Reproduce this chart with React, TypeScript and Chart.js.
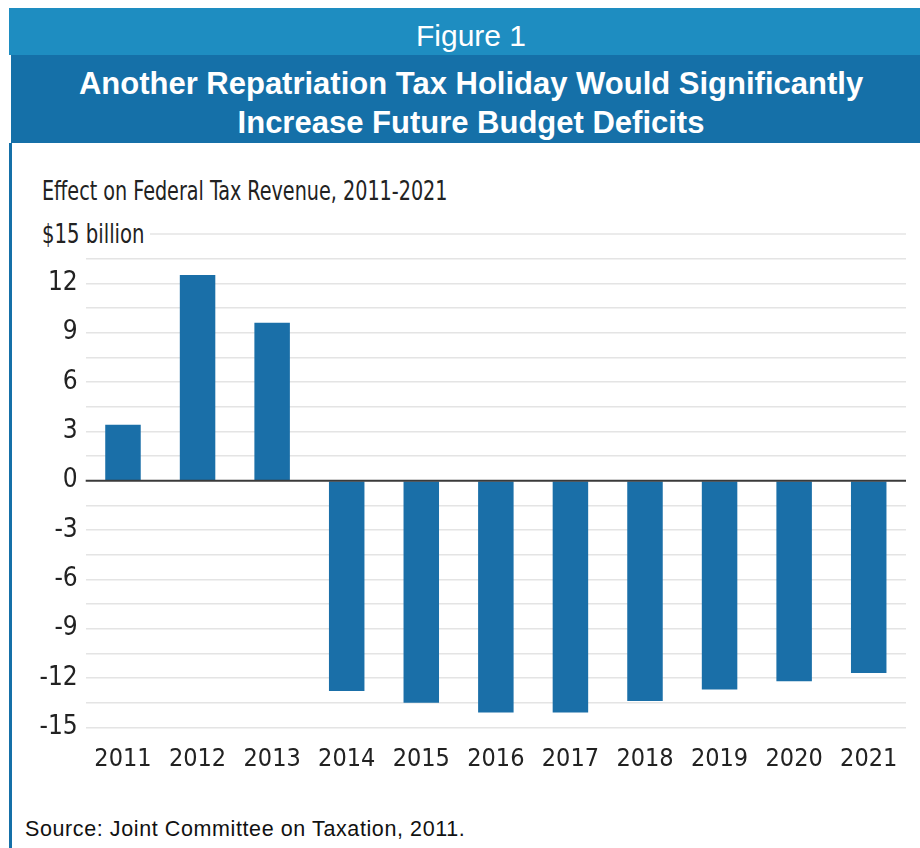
import React, { useEffect, useRef } from "react";
import { Chart, registerables } from "chart.js";

Chart.register(...registerables);

const years = ["2011", "2012", "2013", "2014", "2015", "2016", "2017", "2018", "2019", "2020", "2021"];
const revenueEffect = [3.4, 12.5, 9.6, -12.8, -13.5, -14.1, -14.1, -13.4, -12.7, -12.2, -11.7];
const yTickLabels = ["-15", "-12", "-9", "-6", "-3", "0", "3", "6", "9", "12"];
const topUnitLabel = "$15 billion";
const subtitle = "Effect on Federal Tax Revenue, 2011-2021";
const figureLabel = "Figure 1";
const titleLines = ["Another Repatriation Tax Holiday Would Significantly", "Increase Future Budget Deficits"];
const sourceNote = "Source: Joint Committee on Taxation, 2011.";

const NARROW = '"DejaVu Sans Condensed", "Liberation Sans", sans-serif';
const SANS = '"Liberation Sans", Arial, sans-serif';

const refLines = {
  id: "refLines",
  beforeDatasetsDraw(chart: any) {
    const { ctx, chartArea, scales } = chart;
    const y = scales.y.getPixelForValue(15);
    ctx.save();
    ctx.strokeStyle = "#e4e4e4";
    ctx.lineWidth = 1.5;
    ctx.beginPath();
    ctx.moveTo(150, y);
    ctx.lineTo(chartArea.right, y);
    ctx.stroke();
    ctx.restore();
  },
  afterDatasetsDraw(chart: any) {
    const { ctx, chartArea, scales } = chart;
    const y = scales.y.getPixelForValue(0);
    ctx.save();
    ctx.strokeStyle = "#3a3a3a";
    ctx.lineWidth = 2;
    ctx.beginPath();
    ctx.moveTo(chartArea.left, y);
    ctx.lineTo(chartArea.right, y);
    ctx.stroke();
    ctx.restore();
  },
};

function BarChart() {
  const ref = useRef<HTMLCanvasElement | null>(null);
  useEffect(() => {
    if (!ref.current) return;
    const chart = new Chart(ref.current, {
      type: "bar",
      data: {
        labels: years,
        datasets: [
          {
            data: revenueEffect,
            backgroundColor: "#1a6fa8",
            borderWidth: 0,
            categoryPercentage: 1,
            barPercentage: 0.476,
          },
        ],
      },
      options: {
        animation: false,
        responsive: false,
        maintainAspectRatio: false,
        layout: { padding: { top: 34, right: 14, left: 0, bottom: 0 } },
        plugins: { legend: { display: false }, tooltip: { enabled: false } },
        scales: {
          x: {
            grid: { display: false, drawTicks: false },
            border: { display: false },
            ticks: {
              color: "#222",
              font: { family: NARROW, size: 25 },
              padding: 17,
              maxRotation: 0,
              autoSkip: false,
            },
            afterFit(scale: any) {
              scale.height = 72.7;
            },
          },
          y: {
            min: -15,
            max: 15,
            border: { display: false },
            grid: {
              drawTicks: false,
              color: (c: any) => (c.tick && (c.tick.value === 0 || c.tick.value === 15) ? "rgba(0,0,0,0)" : "#e4e4e4"),
              lineWidth: 1.5,
            },
            ticks: {
              stepSize: 1.5,
              autoSkip: false,
              color: "#222",
              font: { family: NARROW, size: 26 },
              padding: 8,
              callback: (v: any) => {
                const s = String(Math.round(Number(v) * 10) / 10);
                return yTickLabels.includes(s) ? s : "";
              },
            },
            afterFit(scale: any) {
              scale.width = 85.7;
            },
          },
        },
      },
      plugins: [refLines],
    });
    return () => chart.destroy();
  }, []);
  return (
    <canvas
      ref={ref}
      width={920}
      height={600}
      style={{ position: "absolute", left: 0, top: 200, width: 920, height: 600 }}
    />
  );
}

export default function App() {
  return (
    <div style={{ position: "absolute", left: 0, top: 0, width: 920, height: 848, overflow: "hidden", background: "#fff" }}>
      <div style={{ position: "absolute", left: 9, top: 8, width: 924, height: 47, background: "#1e8dc1" }} />
      <div style={{ position: "absolute", left: 11, top: 55, width: 922, height: 88, background: "#1570a8" }} />
      <div style={{ position: "absolute", left: 9, top: 143, width: 3, height: 705, background: "#1570a8" }} />
      <div
        style={{
          position: "absolute", left: 9, top: 20.6, width: 924, textAlign: "center",
          fontFamily: SANS, fontSize: 30, lineHeight: "30px", color: "#fff",
        }}
      >
        {figureLabel}
      </div>
      <div
        style={{
          position: "absolute", left: 9, top: 63.8, width: 924, textAlign: "center",
          fontFamily: SANS, fontWeight: "bold", fontSize: 31, lineHeight: "39px", color: "#fff",
        }}
      >
        {titleLines.map((l) => (
          <div key={l}>{l}</div>
        ))}
      </div>
      <div
        style={{
          position: "absolute", left: 42, top: 178, whiteSpace: "nowrap",
          fontFamily: NARROW, fontSize: 26, lineHeight: "26px", color: "#222",
          transform: "scaleX(0.82)", transformOrigin: "left center",
        }}
      >
        {subtitle}
      </div>
      <div
        style={{
          position: "absolute", left: 42, top: 221, whiteSpace: "nowrap",
          fontFamily: NARROW, fontSize: 26, lineHeight: "26px", color: "#222",
          transform: "scaleX(0.84)", transformOrigin: "left center",
        }}
      >
        {topUnitLabel}
      </div>
      <BarChart />
      <div
        style={{
          position: "absolute", left: 25, top: 819, whiteSpace: "nowrap",
          fontFamily: SANS, fontSize: 21.5, lineHeight: "21.5px", letterSpacing: 0.6, color: "#111",
        }}
      >
        {sourceNote}
      </div>
    </div>
  );
}
